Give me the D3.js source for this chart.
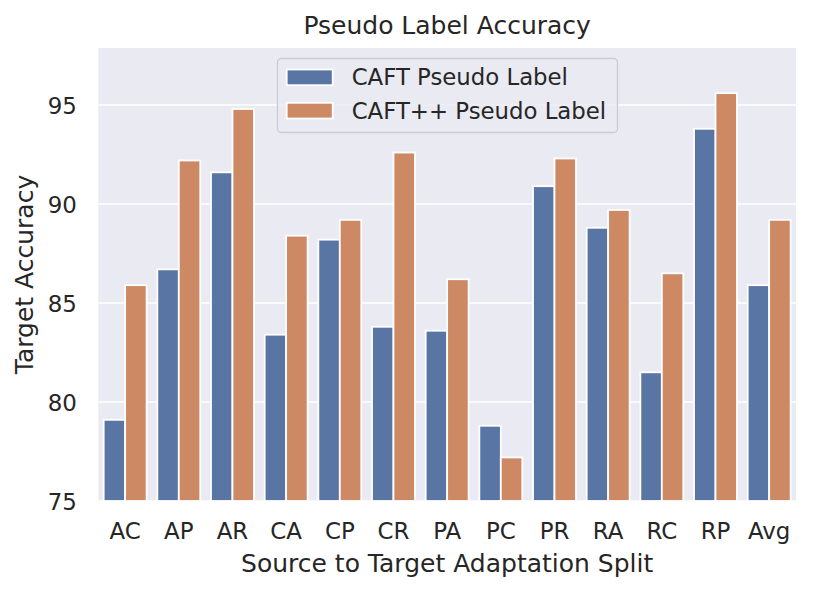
<!DOCTYPE html>
<html>
<head>
<meta charset="utf-8">
<script src="https://cdn.jsdelivr.net/npm/d3@7"></script>
<style>
  html, body { margin: 0; padding: 0; background: #ffffff; }
  svg { display: block; font-family: "DejaVu Sans", sans-serif; }
</style>
</head>
<body>
<svg id="chart" width="814" height="592"></svg>
<script>
const categories = ["AC", "AP", "AR", "CA", "CP", "CR", "PA", "PC", "PR", "RA", "RC", "RP", "Avg"];
const seriesNames = ["CAFT Pseudo Label", "CAFT++ Pseudo Label"];
const caft = [79.1, 86.7, 91.6, 83.4, 88.2, 83.8, 83.6, 78.8, 90.9, 88.8, 81.5, 93.8, 85.9];
const caftPP = [85.9, 92.2, 94.8, 88.4, 89.2, 92.6, 86.2, 77.2, 92.3, 89.7, 86.5, 95.6, 89.2];
const yTicks = [75, 80, 85, 90, 95];
const colors = ["#5975a4", "#cc8963"];

const svg = d3.select("#chart");
const pLeft = 98.3, pRight = 796, pTop = 48, pBottom = 501;

const x = d3.scaleBand().domain(categories).range([pLeft, pRight]).paddingInner(0).paddingOuter(0);
const x1 = d3.scaleBand().domain(seriesNames).range([x.bandwidth() * 0.1, x.bandwidth() * 0.9]);
const y = d3.scaleLinear().domain([75, 97.88]).range([pBottom, pTop]);

// background
svg.append("rect").attr("x", pLeft).attr("y", pTop).attr("width", pRight - pLeft).attr("height", pBottom - pTop).attr("fill", "#eaeaf2");

// gridlines
svg.append("g").selectAll("line").data(yTicks).join("line")
  .attr("x1", pLeft).attr("x2", pRight)
  .attr("y1", d => y(d)).attr("y2", d => y(d))
  .attr("stroke", "#ffffff").attr("stroke-width", 1.6);

// bars
const data = categories.map((c, i) => ({ cat: c, vals: [caft[i], caftPP[i]] }));
const groups = svg.append("g").selectAll("g").data(data).join("g")
  .attr("transform", d => `translate(${x(d.cat)},0)`);
groups.selectAll("rect").data(d => d.vals.map((v, j) => ({ name: seriesNames[j], v, j })))
  .join("rect")
  .attr("x", d => x1(d.name))
  .attr("width", x1.bandwidth())
  .attr("y", d => y(d.v))
  .attr("height", d => y(75) - y(d.v))
  .attr("fill", d => colors[d.j])
  .attr("stroke", "#ffffff").attr("stroke-width", 1.8);

// y axis
const yAxis = d3.axisLeft(y).tickValues(yTicks).tickSize(0).tickPadding(0).tickFormat(d3.format("d"));
const gy = svg.append("g").attr("transform", `translate(${pLeft - 21.5},0)`).call(yAxis);
gy.select(".domain").remove();
gy.selectAll("text").attr("font-size", 22.9).attr("fill", "#262626").attr("font-family", "DejaVu Sans").attr("dy", "0.35em");

// x axis
const xAxis = d3.axisBottom(x).tickSize(0).tickPadding(0);
const gx = svg.append("g").attr("transform", `translate(0,${pBottom + 21.5})`).call(xAxis);
gx.select(".domain").remove();
gx.selectAll("text").attr("font-size", 22.9).attr("fill", "#262626").attr("font-family", "DejaVu Sans").attr("dy", "0.71em");

// labels
svg.append("text").attr("x", (pLeft + pRight) / 2).attr("y", 34).attr("text-anchor", "middle")
  .attr("font-size", 25).attr("fill", "#262626").text("Pseudo Label Accuracy");
svg.append("text").attr("x", (pLeft + pRight) / 2).attr("y", 572).attr("text-anchor", "middle")
  .attr("font-size", 25).attr("fill", "#262626").text("Source to Target Adaptation Split");
svg.append("text").attr("transform", `translate(33,${(pTop + pBottom) / 2}) rotate(-90)`).attr("text-anchor", "middle")
  .attr("font-size", 25).attr("fill", "#262626").text("Target Accuracy");

// legend
const lg = svg.append("g");
lg.append("rect").attr("x", 277.5).attr("y", 58.5).attr("width", 340).attr("height", 74).attr("rx", 4)
  .attr("fill", "#eaeaf2").attr("fill-opacity", 0.85).attr("stroke", "#cccccc").attr("stroke-width", 1.3);
seriesNames.forEach((n, j) => {
  const yy = 69.5 + j * 33.3;
  lg.append("rect").attr("x", 286.7).attr("y", yy).attr("width", 46).attr("height", 15.7)
    .attr("fill", colors[j]).attr("stroke", "#ffffff").attr("stroke-width", 1.8);
  lg.append("text").attr("x", 351.7).attr("y", 85.3 + j * 33.3).attr("font-size", 22.8).attr("fill", "#262626").text(n);
});
</script>
</body>
</html>
